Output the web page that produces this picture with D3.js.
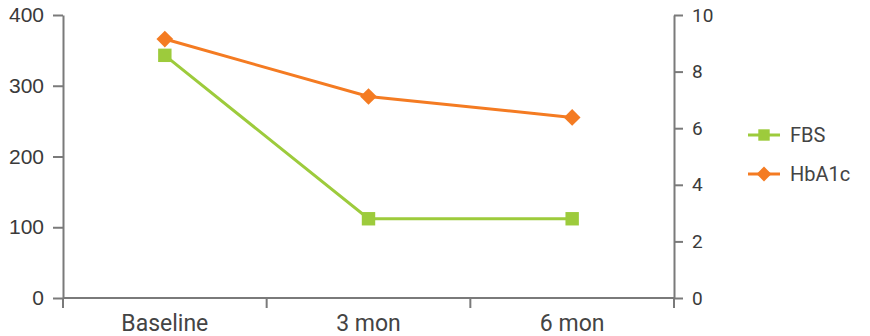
<!DOCTYPE html>
<html><head><meta charset="utf-8">
<script src="https://cdn.jsdelivr.net/npm/d3@7/dist/d3.min.js"></script>
<style>
html,body{margin:0;padding:0;background:#fff;}
svg{display:block;}
</style></head>
<body><svg id="c" width="870" height="336"></svg>
<script>
const categories = ["Baseline", "3 mon", "6 mon"];
const fbs = [343, 112, 112];
const hba1c = [9.15, 7.12, 6.38];
const leftTicks = [0, 100, 200, 300, 400];
const rightTicks = [0, 2, 4, 6, 8, 10];
const seriesNames = ["FBS", "HbA1c"];

(function () {
const svg = d3.select("#c");
const mL = 63, mR = 674, mT = 15, mB = 298;
const green = "#9dcb3c", orange = "#f47b22", axisCol = "#7a7a7a";

const x = d3.scaleBand().domain(categories).range([mL, mR]);
const yL = d3.scaleLinear().domain([0, 400]).range([mB, mT]);
const yR = d3.scaleLinear().domain([0, 10]).range([mB, mT]);

const gL = svg.append("g").attr("transform", `translate(${mL},0)`)
  .call(d3.axisLeft(yL).tickValues(leftTicks).tickSize(10).tickSizeOuter(0).tickPadding(9));
gL.selectAll("text").attr("font-family", "Liberation Sans, Arial, sans-serif").attr("font-size", 21).attr("fill", "#3a3a3a");
const gR = svg.append("g").attr("transform", `translate(${mR},0)`)
  .call(d3.axisRight(yR).tickValues(rightTicks).tickSize(9).tickSizeOuter(0).tickPadding(9));
gR.selectAll("text").attr("font-family", "Roboto, sans-serif").attr("font-size", 19).attr("fill", "#3a3a3a");
[gL, gR].forEach(g => {
  g.selectAll("path.domain").attr("stroke", axisCol).attr("stroke-width", 2);
  g.selectAll("line").attr("stroke", axisCol).attr("stroke-width", 2);
});
svg.append("line").attr("x1", mL).attr("x2", mL).attr("y1", mB).attr("y2", mB + 10)
  .attr("stroke", axisCol).attr("stroke-width", 2);
svg.append("line").attr("x1", mR).attr("x2", mR).attr("y1", mB).attr("y2", mB + 10)
  .attr("stroke", axisCol).attr("stroke-width", 2);

svg.append("line").attr("x1", mL).attr("x2", mR).attr("y1", mB).attr("y2", mB)
  .attr("stroke", axisCol).attr("stroke-width", 2);
categories.slice(1).forEach(c => {
  svg.append("line").attr("x1", x(c)).attr("x2", x(c)).attr("y1", mB).attr("y2", mB + 10)
    .attr("stroke", axisCol).attr("stroke-width", 2);
});
svg.append("g").selectAll("text").data(categories).join("text")
  .attr("x", d => x(d) + x.bandwidth() / 2).attr("y", 331)
  .attr("text-anchor", "middle").attr("font-family", "Roboto, sans-serif").attr("font-size", 23)
  .attr("fill", "#444").text(d => d);

const cx = d => x(d) + x.bandwidth() / 2;
const line = d3.line();
svg.append("path").attr("d", line(categories.map((c, i) => [cx(c), yL(fbs[i])])))
  .attr("fill", "none").attr("stroke", green).attr("stroke-width", 3);
svg.append("path").attr("d", line(categories.map((c, i) => [cx(c), yR(hba1c[i])])))
  .attr("fill", "none").attr("stroke", orange).attr("stroke-width", 3);

const sq = d3.symbol().type(d3.symbolSquare).size(180);
const dm = d3.symbol().type(d3.symbolSquare).size(140);
svg.append("g").selectAll("path").data(categories).join("path")
  .attr("d", sq).attr("transform", (c, i) => `translate(${cx(c)},${yL(fbs[i])})`).attr("fill", green);
svg.append("g").selectAll("path").data(categories).join("path")
  .attr("d", dm).attr("transform", (c, i) => `translate(${cx(c)},${yR(hba1c[i])}) rotate(45)`).attr("fill", orange);

const lg = svg.append("g");
const legendRows = [
  { name: seriesNames[0], color: green, sym: d3.symbol().type(d3.symbolSquare).size(130), rot: 0, y: 135 },
  { name: seriesNames[1], color: orange, sym: d3.symbol().type(d3.symbolSquare).size(110), rot: 45, y: 174 }];
legendRows.forEach(r => {
  lg.append("line").attr("x1", 748).attr("x2", 780).attr("y1", r.y).attr("y2", r.y)
    .attr("stroke", r.color).attr("stroke-width", 3);
  lg.append("path").attr("d", r.sym()).attr("transform", `translate(764,${r.y}) rotate(${r.rot})`).attr("fill", r.color);
  lg.append("text").attr("x", 790).attr("y", r.y).attr("dy", "0.35em")
    .attr("font-family", "Roboto, sans-serif").attr("font-size", 20).attr("fill", "#444").text(r.name);
});
})();
</script></body></html>
